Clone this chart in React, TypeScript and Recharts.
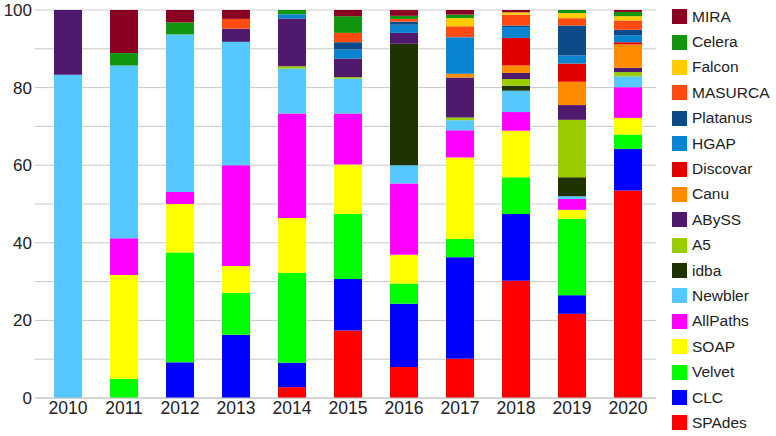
import { Bar, BarChart, CartesianGrid, XAxis, YAxis } from "recharts";

const years = ["2010", "2011", "2012", "2013", "2014", "2015", "2016", "2017", "2018", "2019", "2020"];

// segment shares (%) per year, stack order bottom -> top
const SPAdes   = [0, 0, 0, 0, 2.8, 17.4, 8.0, 10.1, 30.2, 21.7, 53.5];
const CLC      = [0, 0, 9.2, 16.3, 6.3, 13.3, 16.3, 26.2, 17.2, 4.8, 10.7];
const Velvet   = [0, 4.9, 28.3, 10.8, 23.1, 16.7, 5.2, 4.7, 9.5, 19.7, 3.7];
const SOAP     = [0, 26.8, 12.5, 6.9, 14.2, 12.8, 7.4, 21.0, 12.0, 2.3, 4.3];
const AllPaths = [0, 9.5, 3.1, 26.0, 26.9, 13.1, 18.4, 7.0, 4.8, 2.8, 7.9];
const Newbler  = [83.3, 44.5, 40.6, 31.8, 11.6, 9.0, 4.7, 2.6, 5.5, 0.7, 2.8];
const idba     = [0, 0, 0, 0, 0, 0, 31.3, 0, 1.3, 4.9, 0];
const A5       = [0, 0, 0, 0, 0.6, 0.4, 0, 0.7, 1.7, 14.8, 1.1];
const ABySS    = [16.7, 0, 0, 3.4, 12.3, 4.8, 2.8, 10.3, 1.6, 3.8, 1.1];
const Canu     = [0, 0, 0, 0, 0, 0, 0, 1.0, 1.9, 6.0, 6.0];
const Discovar = [0, 0, 0, 0, 0, 0, 0, 0, 7.1, 4.7, 0.6];
const HGAP     = [0, 0, 0, 0, 1.1, 2.3, 2.1, 9.4, 2.8, 2.1, 1.8];
const Platanus = [0, 0, 0, 0, 0, 1.9, 0.8, 0, 0.4, 7.7, 1.4];
const MASURCA  = [0, 0, 0, 2.5, 0, 2.4, 0.7, 2.8, 2.8, 1.9, 2.4];
const Falcon   = [0, 0, 0, 0, 0, 0, 0, 2.1, 0.6, 1.3, 1.1];
const Celera   = [0, 3.2, 3.1, 0, 1.1, 4.3, 0.8, 0.9, 0, 0.8, 1.1];
const MIRA     = [0, 11.1, 3.2, 2.3, 0, 1.6, 1.5, 1.2, 0.6, 0, 0.5];

const series = [
  { name: "SPAdes", values: SPAdes, color: "#ff0000" },
  { name: "CLC", values: CLC, color: "#0000ff" },
  { name: "Velvet", values: Velvet, color: "#00ff00" },
  { name: "SOAP", values: SOAP, color: "#ffff00" },
  { name: "AllPaths", values: AllPaths, color: "#ff00ff" },
  { name: "Newbler", values: Newbler, color: "#55c8ff" },
  { name: "idba", values: idba, color: "#1f3300" },
  { name: "A5", values: A5, color: "#9acd00" },
  { name: "ABySS", values: ABySS, color: "#4f1a6e" },
  { name: "Canu", values: Canu, color: "#ff8c00" },
  { name: "Discovar", values: Discovar, color: "#e00000" },
  { name: "HGAP", values: HGAP, color: "#0a84d0" },
  { name: "Platanus", values: Platanus, color: "#0d4a8a" },
  { name: "MASURCA", values: MASURCA, color: "#ff4a12" },
  { name: "Falcon", values: Falcon, color: "#ffcc00" },
  { name: "Celera", values: Celera, color: "#13960f" },
  { name: "MIRA", values: MIRA, color: "#8b0020" },
];

const yTicks = [0, 10, 20, 30, 40, 50, 60, 70, 80, 90, 100];

const data = years.map((year, i) => {
  const row: Record<string, number | string> = { year };
  for (const s of series) row[s.name] = s.values[i];
  return row;
});

const font = "'Liberation Sans', Arial, sans-serif";

export default function App() {
  return (
    <div style={{ position: "absolute", left: 0, top: 0, width: 776, height: 436, background: "#fff", fontFamily: font }}>
      <BarChart width={776} height={436} data={data} margin={{ top: 10, right: 120, bottom: 0, left: 0 }}>
        <CartesianGrid vertical={false} stroke="#c8c8c8" />
        <XAxis
          dataKey="year"
          height={38}
          padding={{ left: 5, right: 0 }}
          tickLine={false}
          tickSize={0}
          tickMargin={4}
          axisLine={{ stroke: "#c8c8c8" }}
          tick={{ fill: "#222", fontSize: 17.5, fontFamily: font }}
        />
        <YAxis
          width={35}
          domain={[0, 100]}
          ticks={yTicks}
          interval={0}
          tickFormatter={(v: number) => (v % 20 === 0 ? String(v) : "")}
          axisLine={false}
          tickLine={false}
          tickSize={0}
          tickMargin={3}
          tick={{ fill: "#222", fontSize: 17, fontFamily: font }}
        />
        {series.map((s) => (
          <Bar key={s.name} dataKey={s.name} stackId="a" fill={s.color} barSize={28} isAnimationActive={false} />
        ))}
      </BarChart>
      <div style={{ position: "absolute", left: 672, top: 4 }}>
        {[...series].reverse().map((s) => (
          <div key={s.name} style={{ height: 25.4, display: "flex", alignItems: "center" }}>
            <div style={{ width: 15, height: 15, background: s.color, marginRight: 5 }} />
            <span style={{ fontSize: 15.5, color: "#222" }}>{s.name}</span>
          </div>
        ))}
      </div>
    </div>
  );
}
